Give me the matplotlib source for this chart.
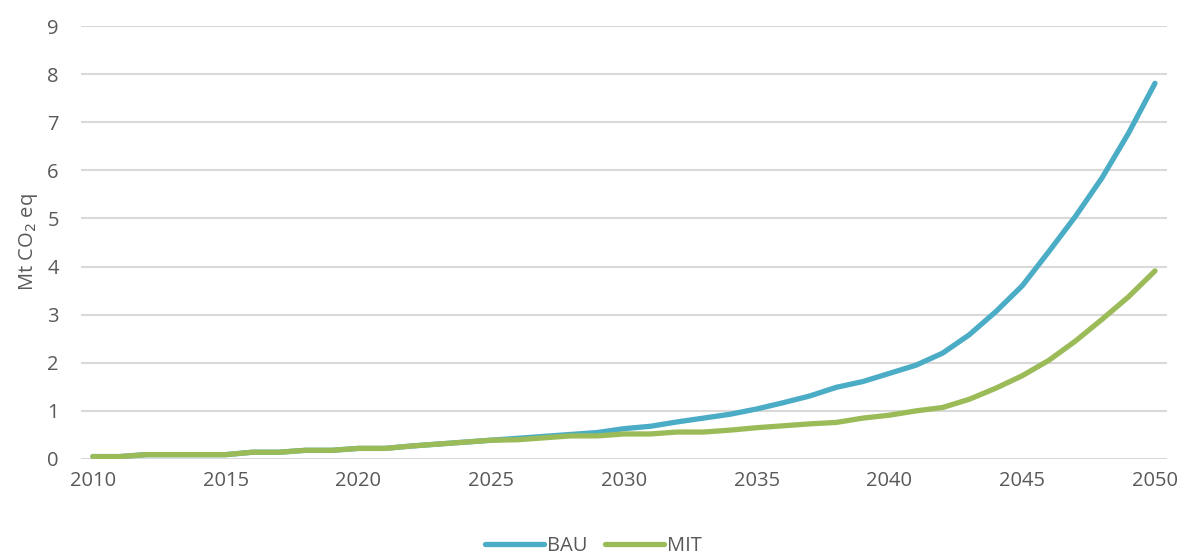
import matplotlib.pyplot as plt

years = list(range(2010, 2051))
bau = [0.05, 0.05, 0.09, 0.09, 0.09, 0.09, 0.14, 0.14, 0.18, 0.18,
       0.22, 0.22, 0.27, 0.31, 0.35, 0.39, 0.43, 0.47, 0.51, 0.55,
       0.63, 0.68, 0.77, 0.85, 0.93, 1.04, 1.17, 1.31, 1.49, 1.61,
       1.78, 1.95, 2.20, 2.58, 3.06, 3.60, 4.31, 5.04, 5.84, 6.77,
       7.81]
mit = [0.05, 0.05, 0.09, 0.09, 0.09, 0.09, 0.14, 0.14, 0.18, 0.18,
       0.22, 0.22, 0.27, 0.31, 0.35, 0.39, 0.40, 0.44, 0.48, 0.48,
       0.52, 0.52, 0.56, 0.56, 0.60, 0.65, 0.69, 0.73, 0.76, 0.85,
       0.91, 1.00, 1.07, 1.24, 1.47, 1.73, 2.05, 2.45, 2.90, 3.37,
       3.91]

text_color = "#595959"
plt.rcParams["font.family"] = ["Open Sans", "DejaVu Sans"]

fig = plt.figure(figsize=(11.84, 5.56), dpi=100)
ax = fig.add_axes([0.0684, 0.1745, 0.9172, 0.7787])

ax.plot(years, bau, color="#4BACC6", linewidth=3.8, solid_capstyle="round", label="BAU")
ax.plot(years, mit, color="#9BBB59", linewidth=3.8, solid_capstyle="round", label="MIT")

ax.set_xlim(2009.55, 2050.45)
ax.set_ylim(0, 9)
ax.set_xticks(range(2010, 2051, 5))
ax.set_yticks(range(0, 10))
ax.grid(axis="y", color="#D9D9D9", linewidth=1.5)
ax.set_axisbelow(True)
for s in ax.spines.values():
    s.set_visible(False)
ax.tick_params(length=0, labelsize=14.5, colors=text_color, pad=9)
ax.tick_params(axis="y", pad=16)
ax.set_ylabel("Mt CO$_2$ eq", fontsize=14.5, color=text_color, labelpad=5)

ax.legend(loc="upper center", bbox_to_anchor=(0.472, -0.135), ncol=2, frameon=False,
          fontsize=14.5, labelcolor=text_color, handlelength=2.9, handletextpad=0.15,
          columnspacing=0.9)

fig.savefig("out.png", dpi=100)
